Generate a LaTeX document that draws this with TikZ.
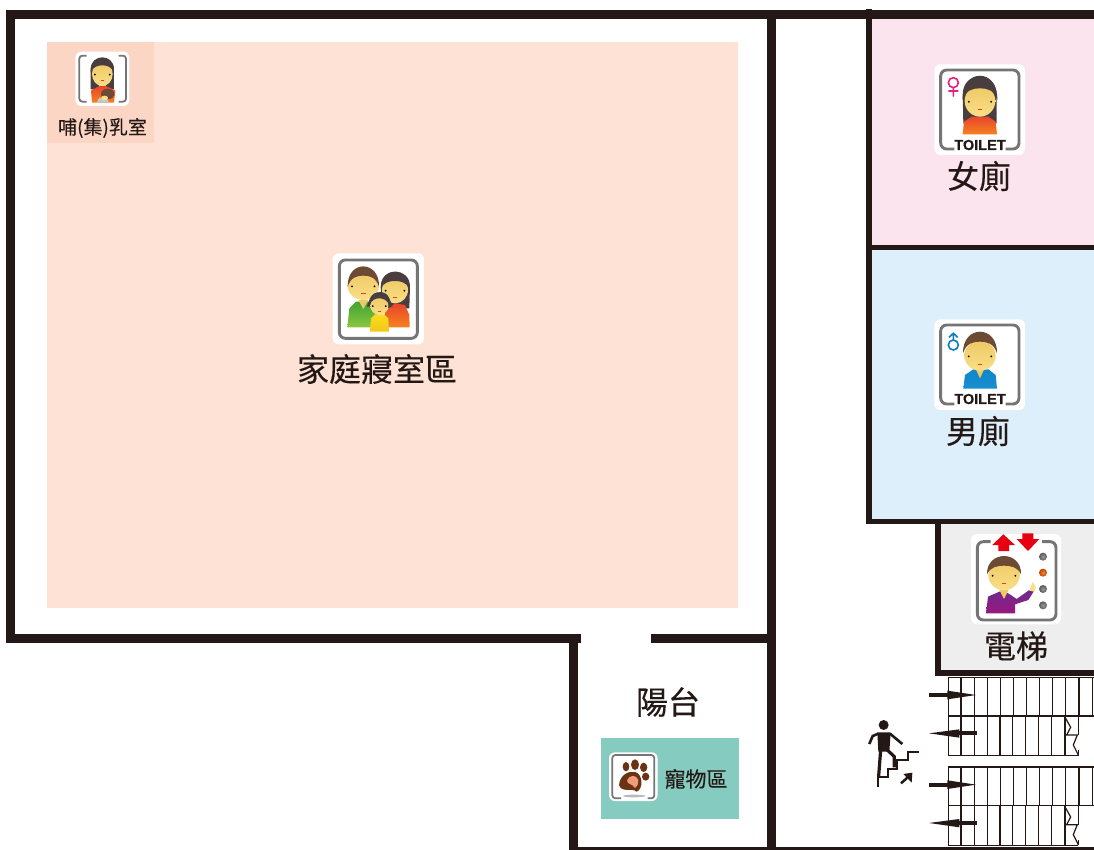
\documentclass[tikz,border=0pt]{standalone}
\usepackage{fontspec}
\newfontfamily\cjk[FakeBold=0.25]{Noto Sans CJK TC}
\newfontfamily\lat[FakeBold=0.5]{Liberation Sans Bold}
\definecolor{wall}{HTML}{231815}
\definecolor{famfill}{HTML}{FDE2D5}
\definecolor{nursefill}{HTML}{FBD6C4}
\definecolor{pinkroom}{HTML}{FBE4EE}
\definecolor{blueroom}{HTML}{DDEFFA}
\definecolor{greyroom}{HTML}{EEEEEE}
\definecolor{tealroom}{HTML}{86CBBF}
\definecolor{frame}{HTML}{757575}
\definecolor{skinT}{HTML}{EFC964}
\definecolor{skinB}{HTML}{F8DF88}
\definecolor{brownhair}{HTML}{6C4A34}
\definecolor{darkhair}{HTML}{4A3D40}
\definecolor{redtop}{HTML}{E8452B}
\definecolor{orangebot}{HTML}{F5821F}
\definecolor{greentop}{HTML}{3FA535}
\definecolor{greenbot}{HTML}{8CC63F}
\definecolor{bluetop}{HTML}{0E86C9}
\definecolor{bluebot}{HTML}{1A8FD0}
\definecolor{yellowtop}{HTML}{F8DC1F}
\definecolor{yellowbot}{HTML}{F5C61A}
\definecolor{purpletop}{HTML}{6E2A8C}
\definecolor{purplebot}{HTML}{97187F}
\definecolor{signred}{HTML}{E60012}
\definecolor{pawbrown}{HTML}{6B3213}
\definecolor{pawpad}{HTML}{EE9C7C}
\definecolor{femalepink}{HTML}{E5207F}
\definecolor{maleblue}{HTML}{0F7CC2}
\tikzset{
  wallline/.style={draw=none,fill=wall},
  iconbg/.style={fill=white,draw=none,rounded corners=6pt},
  framebox/.style={draw=frame,line width=2.9pt,rounded corners=6pt},
  skin/.style={top color=skinT,bottom color=skinB,draw=none},
  dot/.style={fill=black,draw=none},
  stairline/.style={draw=wall,line width=1.2pt},
  roomlabel/.style={font=\cjk\fontsize{32}{36}\selectfont,text=wall,inner sep=0pt},
  toiletlabel/.style={font=\lat\fontsize{14.5}{16}\selectfont,text=wall,inner sep=0pt},
}
% face: cx cy rx ry
\newcommand{\myface}[4]{%
  \shade[skin] (#1,#2) ellipse [x radius=#3,y radius=#4];
  \fill[dot] (#1-#3*0.72,#2+#4*0.05) circle (3);
  \fill[dot] (#1+#3*0.72,#2+#4*0.05) circle (3);
  \draw[draw=red!55!orange,line width=0.5pt] (#1-#3*0.15,#2+#4*0.55) -- (#1+#3*0.15,#2+#4*0.55);
}
% hair over a face: cx, top of hair, half width, side y, fringe y, colour
\newcommand{\myfringe}[6]{%
  \fill[#6] (#1-#3,#4) .. controls (#1-#3-2,#2-#4*0.33+#2*0.33) and (#1+#3+2,#2-#4*0.33+#2*0.33) .. (#1+#3,#4)
    .. controls (#1+#3-10,#5+4) and (#1+#3*0.4,#5) .. (#1,#5)
    .. controls (#1-#3*0.4,#5) and (#1-#3+10,#5+4) .. (#1-#3,#4) -- cycle;
}
\begin{document}
\begin{tikzpicture}[x=1pt,y=-1pt]
\useasboundingbox (0,0) rectangle (1094,850);
\fill[white] (0,0) rectangle (1094,850);
% rooms
\fill[famfill] (47,42) rectangle (738,608);
\fill[nursefill] (47,42) rectangle (154,143);
\fill[pinkroom] (869,15) rectangle (1094,247);
\fill[blueroom] (869,247) rectangle (1094,520);
\fill[greyroom] (938,522) rectangle (1094,672);
\fill[tealroom] (601,738) rectangle (739,819);
% walls
\fill[wallline] (6,10) rectangle (1094,19);
\fill[wallline] (6,10) rectangle (15,642.5);
\fill[wallline] (6,633.5) rectangle (581,642.5);
\fill[wallline] (651,633.5) rectangle (776,642.5);
\fill[wallline] (767,10) rectangle (776,850);
\fill[wallline] (569,633.5) rectangle (578,850);
\fill[wallline] (569,846.5) rectangle (1094,850);
\fill[wallline] (865.5,9) rectangle (871.5,524);
\fill[wallline] (865.5,245) rectangle (1094,250);
\fill[wallline] (865.5,518.5) rectangle (1094,524);
\fill[wallline] (934.5,518.5) rectangle (940.5,676);
\fill[wallline] (934.5,670) rectangle (1094,676);
% nursing icon
\begin{scope}[shift={(40,30)},scale=0.3333]
  \fill[iconbg] (106,65) rectangle (268,228);
  \draw[framebox,line width=1.8pt,rounded corners=3pt] (140,77) -- (118,77) -- (118,215) -- (140,215);
  \draw[framebox,line width=1.8pt,rounded corners=3pt] (236,77) -- (258,77) -- (258,215) -- (236,215);
  \fill[darkhair] (152,178) -- (152,118) .. controls (152,70) and (222,70) .. (222,118) -- (222,178) -- cycle;
  \fill[skinT] (178,155) rectangle (198,180);
  \shade[top color=redtop,bottom color=orangebot] (156,218) -- (153,182) -- (178,168) -- (198,168) -- (226,182) -- (222,218) -- cycle;
  \myface{187}{132}{31}{36}
  \myfringe{187}{85}{35}{125}{106}{darkhair}
  \fill[gray!45] (170,218) -- (178,203) -- (205,203) -- (205,218) -- cycle;
  \fill[brownhair] (203,192) ellipse [x radius=20,y radius=16];
  \fill[skinB] (194,204) ellipse [x radius=10,y radius=7];
\end{scope}
\node[font=\cjk\fontsize{19}{20}\selectfont,text=wall,inner sep=0pt] (nurselabel) at (102.5,128) {哺(集)乳室};
% family icon
\begin{scope}[shift={(320,245)},scale=0.3333]
  \fill[iconbg] (38,25) rectangle (312,298);
  \draw[framebox] (58,45) rectangle (292,280);
  % mother
  \fill[darkhair] (183,190) -- (183,125) .. controls (183,65) and (270,65) .. (270,125) -- (268,190) -- cycle;
  \shade[top color=redtop,bottom color=orangebot] (190,247) -- (195,200) -- (225,175) -- (255,180) -- (268,210) -- (269,247) -- cycle;
  \myface{225}{135}{39}{40}
  \myfringe{225}{80}{43}{130}{108}{darkhair}
  % father
  \shade[top color=greentop,bottom color=greenbot] (82,247) -- (88,190) -- (108,170) -- (150,170) -- (170,190) -- (172,247) -- cycle;
  \fill[skinT] (115,165) -- (145,165) -- (130,192) -- cycle;
  \myface{130}{122}{47}{43}
  \myfringe{130}{64}{47}{125}{92}{brownhair}
  % daughter
  \fill[darkhair] (140,185) -- (150,160) .. controls (160,135) and (200,135) .. (208,160) -- (218,185) -- cycle;
  \shade[top color=yellowtop,bottom color=yellowbot] (150,260) -- (153,220) -- (165,208) -- (192,208) -- (205,220) -- (207,260) -- cycle;
  \myface{178}{182}{27}{28}
  \myfringe{178}{143}{30}{178}{160}{darkhair}
\end{scope}
\node[roomlabel] (famlabel) at (377,369) {家庭寢室區};
% female toilet icon
\begin{scope}[shift={(925,55)},scale=0.3333]
  \fill[iconbg] (28,28) rectangle (300,300);
  \draw[framebox] (88,282) -- (47,282) -- (47,45) -- (282,45) -- (282,282) -- (242,282);
  \draw[draw=femalepink,line width=1.6pt] (85,83) circle (15) (85,98) -- (85,125) (70,108) -- (100,108);
  \fill[darkhair] (115,205) -- (113,120) .. controls (113,45) and (215,45) .. (215,120) -- (215,205) -- cycle;
  \shade[top color=redtop,bottom color=orangebot] (113,238) -- (117,200) -- (140,185) -- (190,185) -- (212,200) -- (216,238) -- cycle;
  \myface{165}{138}{46}{47}
  \myfringe{165}{62}{52}{135}{100}{darkhair}
\end{scope}
\node[toiletlabel] (ftoilet) at (980,145) {TOILET};
\node[roomlabel] (flabel) at (979,176) {女廁};
% male toilet icon
\begin{scope}[shift={(925,310)},scale=0.3333]
  \fill[iconbg] (28,28) rectangle (300,300);
  \draw[framebox] (88,282) -- (47,282) -- (47,45) -- (282,45) -- (282,282) -- (242,282);
  \draw[draw=maleblue,line width=1.6pt] (85,105) circle (15) (85,90) -- (85,70) (72,82) -- (85,70) -- (98,82);
  \shade[top color=bluetop,bottom color=bluebot] (115,236) -- (120,195) -- (145,178) -- (190,178) -- (212,195) -- (216,236) -- cycle;
  \fill[skinT] (150,172) -- (180,172) -- (165,205) -- cycle;
  \myface{165}{137}{47}{45}
  \myfringe{165}{65}{51}{130}{95}{brownhair}
\end{scope}
\node[toiletlabel] (mtoilet) at (980,399) {TOILET};
\node[roomlabel] (mlabel) at (978,431) {男廁};
% elevator icon
\begin{scope}[shift={(960,525)},scale=0.3333]
  \fill[iconbg] (33,27) rectangle (303,298);
  \draw[framebox] (92,50) -- (52,50) -- (52,285) -- (288,285) -- (288,50) -- (246,50);
  \fill[signred] (130,28) -- (165,60) -- (147,60) -- (147,78) -- (115,78) -- (115,60) -- (97,60) -- cycle;
  \fill[signred] (187,25) -- (220,25) -- (220,42) -- (238,42) -- (204,78) -- (170,42) -- (187,42) -- cycle;
  \foreach \ly/\lc in {95/gray,143/orange!80!red,192/gray,241/gray}
    \shade[inner color=\lc!80!white,outer color=\lc!70!black] (249,\ly) circle (12);
  \shade[top color=purpletop,bottom color=purplebot] (78,265) -- (84,215) -- (118,200) -- (145,205) -- (170,222) -- (208,195) -- (222,198) -- (205,225) -- (165,238) -- (165,265) -- cycle;
  \fill[skinT] (118,195) -- (146,195) -- (132,222) -- cycle;
  \fill[skinB] (208,197) -- (218,170) -- (228,188) -- (222,200) -- cycle;
  \myface{132}{150}{47}{46}
  \myfringe{132}{93}{51}{148}{122}{brownhair}
\end{scope}
\node[roomlabel] (elabel) at (1016,646) {電梯};
\node[roomlabel] (blabel) at (668,702) {陽台};
% paw icon
\begin{scope}[shift={(595,730)},scale=0.3333]
  \fill[iconbg] (42,67) rectangle (188,213);
  \draw[framebox,line width=1.7pt,rounded corners=3pt] (78,205) -- (52,205) -- (52,75) -- (178,75) -- (178,205) -- (158,205);
  \fill[gray!55] (118,198) ellipse [x radius=34,y radius=4];
  \fill[pawbrown] (93,110) ellipse [x radius=10,y radius=14];
  \fill[pawbrown] (120,104) ellipse [x radius=12,y radius=16];
  \fill[pawbrown] (146,112) ellipse [x radius=11,y radius=14];
  \fill[pawbrown] (152,140) ellipse [x radius=11,y radius=12];
  \fill[pawbrown] (72,165) .. controls (75,135) and (100,122) .. (120,126) .. controls (145,132) and (145,178) .. (125,185) .. controls (110,172) and (80,190) .. (72,165) -- cycle;
  \fill[pawpad] (96,152) .. controls (100,135) and (125,132) .. (130,150) .. controls (130,165) and (125,170) .. (120,174) .. controls (112,160) and (98,165) .. (96,152) -- cycle;
\end{scope}
\node[font=\cjk\fontsize{21}{24}\selectfont,text=wall,inner sep=0pt] (petlabel) at (696,779) {寵物區};
% stairs
\begin{scope}[shift={(860,670)},scale=0.3333]
  \foreach \oy in {0,269}{
    \begin{scope}[shift={(0,\oy)}]
    \draw[stairline] (265,22) -- (702,22) (265,138) -- (702,138) (265,257) -- (655,257);
    \foreach \sx in {265,303,343,382,421,460,500,538,578,617,657,697}
      \draw[stairline] (\sx,22) -- (\sx,138);
    \foreach \sx in {265,303,343,382,420,458,497,536,575,615,655}
      \draw[stairline] (\sx,138) -- (\sx,257);
    \draw[stairline,white,line width=2pt] (655,196) -- (655,240);
    \draw[stairline] (617,145) -- (632,172) -- (620,195) -- (652,195) -- (640,225) -- (655,255);
    \fill[wall] (207,69) rectangle (265,81);
    \fill[wall] (262,62) -- (348,75) -- (262,88) -- cycle;
    \fill[wall] (298,184) rectangle (352,196);
    \fill[wall] (207,190) -- (298,178) -- (298,203) -- cycle;
    \end{scope}
  }
  % climbing figure
  \fill[wall] (71,165) circle (15);
  \fill[wall] (52,187) -- (92,187) -- (88,245) -- (55,245) -- cycle;
  \draw[wall,line width=2.6pt] (28,222) -- (38,198) -- (55,191);
  \draw[wall,line width=2.6pt] (90,191) -- (127,222);
  \draw[wall,line width=3.2pt] (62,240) -- (56,318);
  \draw[wall,line width=3.2pt] (82,240) -- (103,260) -- (103,292);
  \draw[wall,line width=1.7pt] (55,352) -- (55,322) -- (85,322) -- (85,296) -- (112,296) -- (112,270) -- (143,270) -- (143,245) -- (177,245);
  \draw[wall,line width=2.5pt] (123,340) -- (150,316);
  \fill[wall] (130,312) -- (157,308) -- (155,338) -- cycle;
\end{scope}
\end{tikzpicture}
\end{document}
